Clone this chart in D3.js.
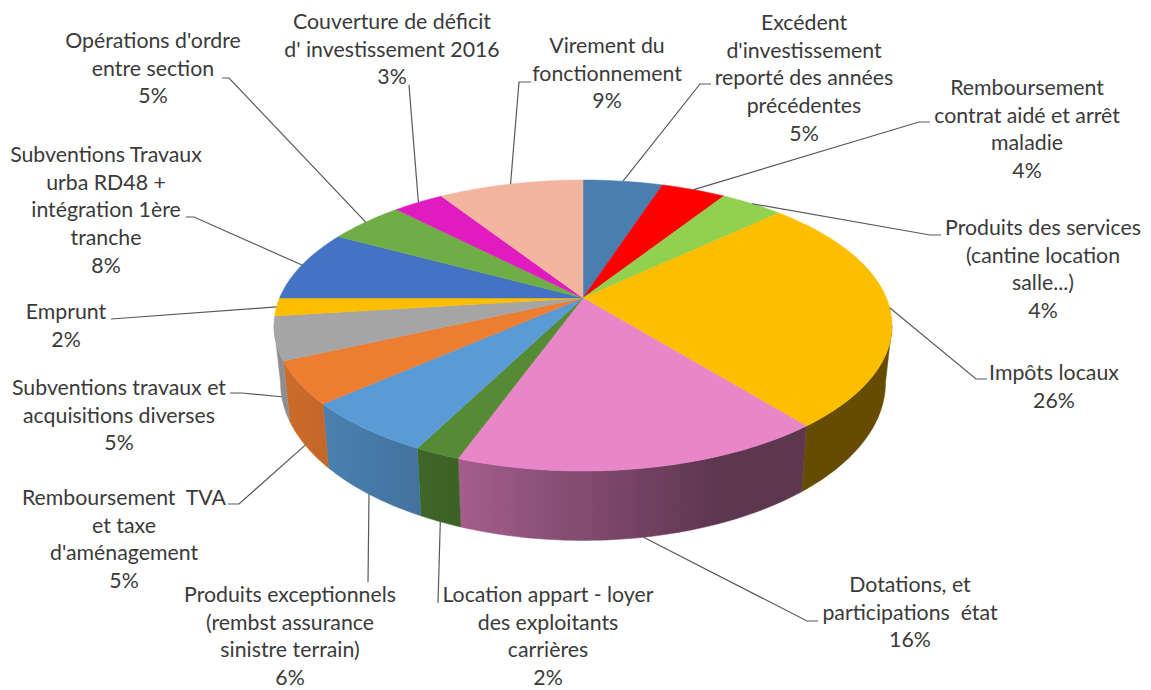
<!DOCTYPE html>
<html>
<head>
<meta charset="utf-8">
<script src="https://cdn.jsdelivr.net/npm/d3@7"></script>
<style>
  html,body{margin:0;background:#fff;}
  svg{display:block;}
  text{font-family:Lato,"Open Sans",sans-serif;font-size:21.3px;fill:#3a3a3a;white-space:pre;}
</style>
</head>
<body>
<svg id="chart" width="1151" height="690"></svg>
<script>
// ===== Data =====
const categories = [
  ["Excédent","d'investissement","reporté des années","précédentes"],
  ["Remboursement","contrat aidé et arrêt","maladie"],
  ["Produits des services","(cantine location","salle...)"],
  ["Impôts locaux"],
  ["Dotations, et","participations  état"],
  ["Location appart - loyer","des exploitants","carrières"],
  ["Produits exceptionnels","(rembst assurance","sinistre terrain)"],
  ["Remboursement  TVA","et taxe","d'aménagement"],
  ["Subventions travaux et","acquisitions diverses"],
  ["Emprunt"],
  ["Subventions Travaux","urba RD48 +","intégration 1ère","tranche"],
  ["Opérations d'ordre","entre section"],
  ["Couverture de déficit","d' investissement 2016"],
  ["Virement du","fonctionnement"]
];
const values = [5.0,4.05,3.95,26.2,16.3,2.0,6.0,4.7,4.8,2.0,7.9,4.8,3.2,9.1];
const colors = ["#4a7eb0","#ff0000","#92d050","#fdbe00","#e986c8","#558b35","#5b9bd5","#ed7d31","#a5a5a5","#fdbe00","#4472c4","#70ad47","#e01cc0","#f3b5a0"];

// label placement: centre x, y of first line
const labelX = [804,1027,1043,1054,910,548,290,124,119,66,106,153,392,607];
const labelY = [30,95,235,380,592,602,602,505,395,319,162,48,29,53];
// leader start at the label, then the elbow (same order as categories)
const leaderFrom = [[711,84],[930,122],[941,235],[987,379],[818,621],[438,603],[368,582],[228,504],[230,393],[111,319],[186,217],[222,78],[409,85],[531,82]];
const leaderElbow = [[700,84],[919,122],[930,235],[976,379],[807,621],null,null,[239,504],[242,393],null,[194,217],[229,78],null,[519,82]];

// ===== Geometry =====
const CX = 583, LINE_H = 27.7;
const K = 0.189;                        // perspective
const topRing = {cy:298, R:303.4, B:140.3};
const botRing = {cy:353, R:297, B:152};

const svg = d3.select('#chart');
const defs = svg.append('defs');
const gWalls = svg.append('g');
const gTops = svg.append('g');
const gLines = svg.append('g');
const gLabels = svg.append('g');

const arcs = d3.pie().sort(null).value(d=>d)(values);
const line = d3.line();

function project(theta, ring){
  const u = Math.sin(theta), v = -Math.cos(theta), w = 1 - K*v;
  return [CX + ring.R*u/w, ring.cy + ring.B*v/w];
}
function sampleAngles(a0, a1){
  const n = Math.max(2, Math.ceil((a1-a0)/0.02));
  return d3.range(n+1).map(i => a0 + (a1-a0)*i/n);
}

// brightness of the wall along x
const shade = d3.scaleLinear().domain([285,461,720]).range([.86,.70,.40]).clamp(true);
const wallMin = Math.PI - Math.acos(K), wallMax = Math.PI + Math.acos(K);

arcs.forEach((d,i)=>{
  const a0 = Math.max(d.startAngle, wallMin), a1 = Math.min(d.endAngle, wallMax);
  if(a1 <= a0) return;
  const ang = sampleAngles(a0,a1);
  const pts = ang.map(t=>project(t,topRing)).concat(ang.slice().reverse().map(t=>project(t,botRing)));
  const xs = d3.extent(pts, p=>p[0]);
  const id = `wall-${i}`;
  const grad = defs.append('linearGradient').attr('id',id)
    .attr('gradientUnits','userSpaceOnUse')
    .attr('x1',xs[0]).attr('x2',xs[1]).attr('y1',0).attr('y2',0);
  d3.range(9).forEach(s=>{
    const f = s/8, c = d3.rgb(colors[i]), b = shade(xs[0]+(xs[1]-xs[0])*f);
    grad.append('stop').attr('offset',f)
      .attr('stop-color',d3.rgb(c.r*b,c.g*b,c.b*b).formatHex());
  });
  gWalls.append('path').attr('d',line(pts)+'Z').attr('fill',`url(#${id})`)
    .attr('stroke',`url(#${id})`).attr('stroke-width',.5);
});

gTops.selectAll('path').data(arcs).join('path')
  .attr('d',d=>line([[CX,topRing.cy]].concat(sampleAngles(d.startAngle,d.endAngle).map(t=>project(t,topRing))))+'Z')
  .attr('fill',(d,i)=>colors[i])
  .attr('stroke',(d,i)=>colors[i])
  .attr('stroke-width',.5);

// leaders end on the outer edge of the slice, at its middle angle
arcs.forEach((d,i)=>{
  const mid = (d.startAngle+d.endAngle)/2;
  const end = project(mid, -Math.cos(mid) > .2 ? botRing : topRing);
  const pts = [leaderFrom[i]].concat(leaderElbow[i] ? [leaderElbow[i]] : [], [end]);
  gLines.append('path').attr('d',line(pts)).attr('fill','none')
    .attr('stroke','#595959').attr('stroke-width',1.2);
});

categories.forEach((lines,i)=>{
  const t = gLabels.append('text').attr('text-anchor','middle');
  lines.concat([`${Math.round(values[i])}%`]).forEach((s,j)=>{
    t.append('tspan').attr('x',labelX[i]).attr('y',labelY[i]+j*LINE_H).text(s);
  });
});
</script>
</body>
</html>
